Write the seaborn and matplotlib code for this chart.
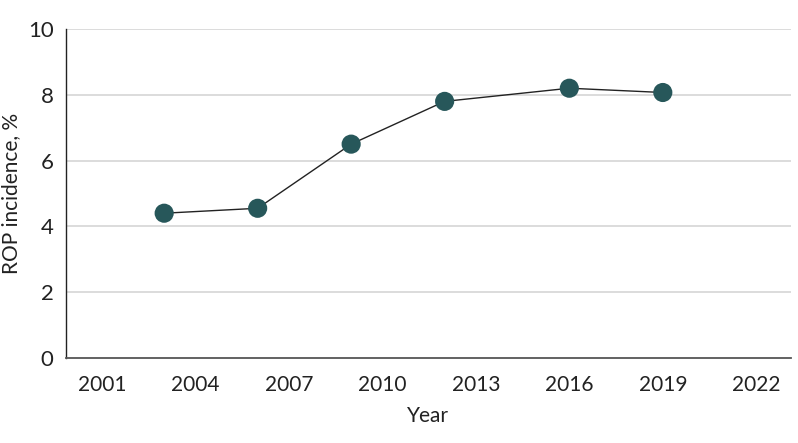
import matplotlib
matplotlib.use("Agg")
import matplotlib.pyplot as plt
import seaborn as sns
import pandas as pd
import numpy as np

sns.set_theme(style="white")
plt.rcParams['font.family'] = ['Lato', 'DejaVu Sans']

years = [2003, 2006, 2009, 2012, 2016, 2019]
incidence = [4.4, 4.55, 6.5, 7.8, 8.2, 8.07]
tick_years = [2001, 2004, 2007, 2010, 2013, 2016, 2019, 2022]

df = pd.DataFrame({'Year': years, 'Incidence': incidence})

fig = plt.figure(figsize=(7.98, 4.43), dpi=100)
ax = fig.add_axes([0.0827, 0.192, 0.908, 0.7425])

for yv in [2, 4, 6, 8, 10]:
    ax.axhline(yv, color='#d9d9d9', linewidth=1.3, zorder=0)

sns.lineplot(data=df, x='Year', y='Incidence', ax=ax, color='#222222', linewidth=1,
             zorder=2)
sns.scatterplot(data=df, x='Year', y='Incidence', ax=ax, color='#27575a', s=190,
                edgecolor='none', zorder=3)

ax.set_xlim(1999.85, 2023.1)
ax.set_ylim(0, 10)
ax.set_xticks(tick_years)
ax.set_xticks(np.arange(2001, 2023), minor=True)
ax.set_yticks([0, 2, 4, 6, 8, 10])
ax.tick_params(axis='both', which='both', direction='out', length=6, width=1,
               color='#444444', labelsize=15, labelcolor='#222222')
ax.tick_params(axis='y', labelsize=16, pad=3)
ax.tick_params(axis='x', which='major', pad=6)

for s in ['top', 'right']:
    ax.spines[s].set_visible(False)
ax.spines['left'].set_color('#222222')
ax.spines['bottom'].set_color('#555555')
ax.spines['left'].set_linewidth(1)
ax.spines['bottom'].set_linewidth(1.3)

ax.set_xlabel('Year', fontsize=15, color='#222222', labelpad=8)
ax.set_ylabel('ROP incidence, %', fontsize=15, color='#222222')
ax.yaxis.set_label_coords(-0.062, 0.5)

plt.savefig('out.png', dpi=100)
plt.close()
